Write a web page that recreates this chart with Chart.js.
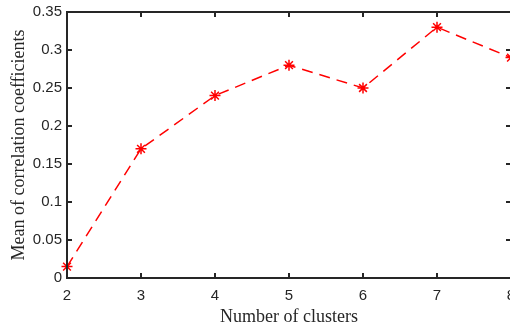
<!DOCTYPE html>
<html>
<head>
<meta charset="utf-8">
<script src="https://cdn.jsdelivr.net/npm/chart.js@4"></script>
<style>
  html, body { margin: 0; padding: 0; background: #fff; overflow: hidden; }
  #wrap { width: 520px; height: 328px; }
</style>
</head>
<body>
<div id="wrap"><canvas id="chart" width="520" height="328"></canvas></div>
<script>
    // === Data ===
    const clusters = [2, 3, 4, 5, 6, 7, 8];
    const meanCorr = [0.015, 0.17, 0.24, 0.28, 0.25, 0.33, 0.29];
    const yTicks = [0, 0.05, 0.1, 0.15, 0.2, 0.25, 0.3, 0.35];

    const axisColor = "#262626";

    // === Box + inward ticks (MATLAB style) ===
    const framePlugin = {
      id: "frame",
      afterDraw(chart) {
        const { ctx, chartArea: a, scales } = chart;
        ctx.save();
        ctx.strokeStyle = axisColor;
        ctx.lineWidth = 2;
        ctx.strokeRect(a.left, a.top, a.right - a.left, a.bottom - a.top);
        const len = 5;
        ctx.beginPath();
        scales.x.ticks.forEach(t => {
          const px = scales.x.getPixelForValue(t.value);
          ctx.moveTo(px, a.bottom); ctx.lineTo(px, a.bottom - len);
          ctx.moveTo(px, a.top); ctx.lineTo(px, a.top + len);
        });
        scales.y.ticks.forEach(t => {
          const py = scales.y.getPixelForValue(t.value);
          ctx.moveTo(a.left, py); ctx.lineTo(a.left + len, py);
          ctx.moveTo(a.right, py); ctx.lineTo(a.right - len, py);
        });
        ctx.stroke();
        ctx.restore();
      }
    };

    const ctx = document.getElementById("chart").getContext("2d");
    new Chart(ctx, {
      type: "line",
      data: {
        datasets: [{
          data: clusters.map((c, i) => ({ x: c, y: meanCorr[i] })),
          borderColor: "#ff0000",
          backgroundColor: "#ff0000",
          borderWidth: 1.5,
          borderDash: [11, 7],
          pointStyle: "star",
          pointRadius: 5.5,
          pointBorderWidth: 1.5,
          pointBorderColor: "#ff0000",
          fill: false,
          tension: 0
        }]
      },
      options: {
        responsive: false,
        animation: false,
        clip: false,
        layout: { padding: { top: 12, right: 9, left: 0, bottom: 0 } },
        plugins: { legend: { display: false }, tooltip: { enabled: false } },
        scales: {
          x: {
            type: "linear",
            min: clusters[0],
            max: clusters[clusters.length - 1],
            afterFit: s => { s.height = 50; s.paddingLeft = 0; s.paddingRight = 0; },
            grid: { display: false, drawTicks: false },
            border: { display: false },
            ticks: {
              stepSize: 1,
              padding: 9,
              color: axisColor,
              font: { family: "Liberation Sans", size: 15 }
            },
            title: {
              display: true,
              text: "Number of clusters",
              color: axisColor,
              padding: { top: 0, bottom: 0 },
              font: { family: "Liberation Serif", size: 18 }
            }
          },
          y: {
            min: yTicks[0],
            max: yTicks[yTicks.length - 1],
            afterFit: s => { s.width = 67; s.paddingTop = 0; s.paddingBottom = 0; },
            afterBuildTicks: s => { s.ticks = yTicks.map(v => ({ value: v })); },
            grid: { display: false, drawTicks: false },
            border: { display: false },
            ticks: {
              padding: 5,
              color: axisColor,
              font: { family: "Liberation Sans", size: 15 },
              callback: v => String(+v.toFixed(2))
            },
            title: {
              display: true,
              text: "Mean of correlation coefficients",
              color: axisColor,
              padding: { top: 8, bottom: 0 },
              font: { family: "Liberation Serif", size: 18 }
            }
          }
        }
      },
      plugins: [framePlugin]
    });
</script>
</body>
</html>
